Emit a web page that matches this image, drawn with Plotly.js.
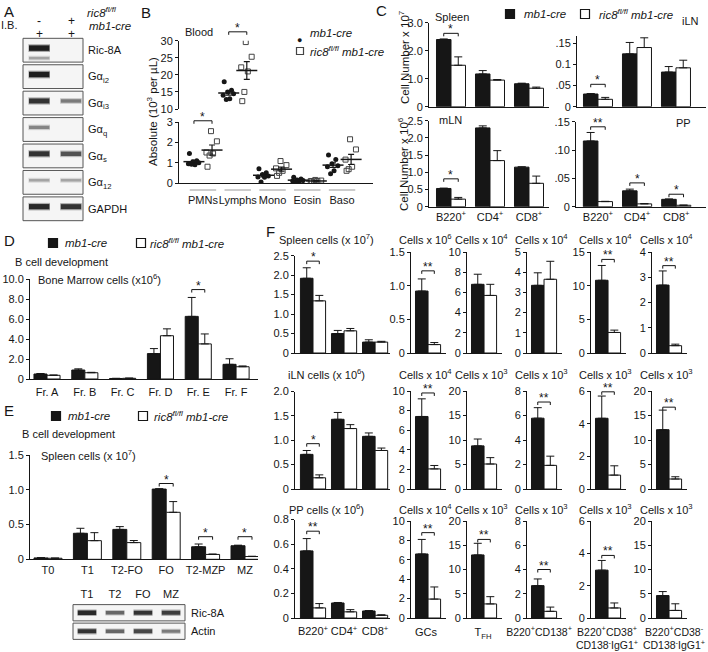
<!DOCTYPE html>
<html><head><meta charset="utf-8">
<script src="https://cdn.plot.ly/plotly-3.0.1.min.js"></script>
<style>html,body{margin:0;padding:0;background:#fff;}#chart{width:708px;height:652px;}</style>
</head><body><div id="chart"></div>
<script>
// ================= DATA =================
// Panel A (immunoblot band intensities, 0..1)
const blotLabels = ['Ric-8A','G\u03b1<sub>i2</sub>','G\u03b1<sub>i3</sub>','G\u03b1<sub>q</sub>','G\u03b1<sub>s</sub>','G\u03b1<sub>12</sub>','GAPDH'];
const blotCtrl = [0.95, 0.95, 0.85, 0.45, 0.85, 0.3, 0.9];
const blotKO = [0, 0, 0.5, 0, 0.7, 0.3, 0.85];
const blotCtrlMinor = [0.3, 0, 0, 0, 0, 0, 0];
const genoRic8 = ['-', '+'];
const genoMb1 = ['+', '+'];

// Panel B (blood counts, 10^3 per uL)
const bloodCats = ['PMNs','Lymphs','Mono','Eosin','Baso'];
const bloodCtrlPts = [[1.45,1.1,1.05,1.0,0.95,0.9,0.92],[18,15.5,15,14.5,14,13,12.8],[0.7,0.5,0.42,0.35,0.3,0.28,0.05],[0.28,0.2,0.15,0.12,0.1,0.08,0.05],[1.38,1.15,0.95,0.85,0.8,0.6,0.45]];
const bloodKOPts = [[2.55,2.05,1.5,1.45,1.35,0.8],[29.6,25.3,22.2,21.0,15.0,12.3],[1.08,0.88,0.72,0.6,0.5,0.35],[0.15,0.12,0.1,0.1,0.08,0.07],[2.15,1.65,1.15,0.8,0.68,0.6]];
const bloodCtrlMean = [1.05,14.7,0.38,0.14,0.88];
const bloodCtrlSem = [0.07,0.65,0.08,0.03,0.11];
const bloodKOMean = [1.62,21.3,0.68,0.10,1.16];
const bloodKOSem = [0.25,2.6,0.10,0.015,0.25];
const bloodSig = ['*','*','','',''];
const bloodSigY = [3.06,32.6,0,0,0];
const bloodLowTicks = ['0','1','2','3'];
const bloodHighTicks = ['10','15','20','25','30'];

// Panel C
const cCats = ['B220<sup>+</sup>','CD4<sup>+</sup>','CD8<sup>+</sup>'];
const cSpleenCtrl = [2.40,1.17,0.82], cSpleenCtrlErr = [0.02,0.12,0.02];
const cSpleenKO = [1.48,0.95,0.66], cSpleenKOErr = [0.30,0.02,0.04];
const cSpleenSig = ['*','',''], cSpleenSigY = [2.62,0,0];
const cSpleenTicks = ['0','1.0','2.0','3.0'];
const cILNCtrl = [0.030,0.125,0.082], cILNCtrlErr = [0.001,0.027,0.013];
const cILNKO = [0.0175,0.140,0.092], cILNKOErr = [0.0045,0.023,0.018];
const cILNSig = ['*','',''], cILNSigY = [0.053,0,0];
const cILNTicks = ['0','.05','0.1','.15'];
const cMLNCtrl = [0.53,2.29,1.15], cMLNCtrlErr = [0.01,0.06,0.01];
const cMLNKO = [0.22,1.34,0.68], cMLNKOErr = [0.05,0.29,0.21];
const cMLNSig = ['*','',''], cMLNSigY = [0.81,0,0];
const cMLNTicks = ['0','0.5','1.0','1.5','2.0','2.5'];
const cPPCtrl = [0.116,0.028,0.013], cPPCtrlErr = [0.015,0.003,0.0006];
const cPPKO = [0.009,0.005,0.0025], cPPKOErr = [0.0005,0.0005,0.0003];
const cPPSig = ['**','*','*'], cPPSigY = [0.141,0.042,0.022];
const cPPTicks = ['0','.05','.10','.15'];

// Panel D
const dCats = ['Fr. A','Fr. B','Fr. C','Fr. D','Fr. E','Fr. F'];
const dCtrl = [0.5,0.9,0.05,2.55,6.28,1.47], dCtrlErr = [0.05,0.12,0.02,0.5,1.9,0.56];
const dKO = [0.37,0.63,0.07,4.34,3.52,1.23], dKOErr = [0.03,0.04,0.02,0.69,1.0,0.08];
const dSig = ['','','','','*',''], dSigY = [0,0,0,0,8.97,0];
const dTicks = ['0','2.0','4.0','6.0','8.0','10.0'];

// Panel E
const eCats = ['T0','T1','T2-FO','FO','T2-MZP','MZ'];
const eCtrl = [0.02,0.374,0.43,1.01,0.18,0.195], eCtrlErr = [0.003,0.072,0.04,0.005,0.04,0.008];
const eKO = [0.015,0.268,0.24,0.676,0.07,0.04], eKOErr = [0.003,0.115,0.03,0.154,0.006,0.004];
const eSig = ['','','','*','*','*'], eSigY = [0,0,0,1.09,0.325,0.325];
const eTicks = ['0','0.5','1.0','1.5'];
const eBlotLanes = ['T1','T2','FO','MZ'];
const eBlotLabels = ['Ric-8A','Actin'];
const eBlotRic = [0.9,0.6,0.85,0.8];
const eBlotActin = [0.85,0.6,0.75,0.5];

// Panel F
const fCats = ['B220<sup>+</sup>','CD4<sup>+</sup>','CD8<sup>+</sup>'];
const fGroupTitles = ['Spleen cells (x 10<sup>7</sup>)','iLN cells (x 10<sup>6</sup>)','PP cells (x 10<sup>6</sup>)'];
const fSpleenCtrl = [1.92,0.50,0.28], fSpleenCtrlErr = [0.27,0.08,0.06];
const fSpleenKO = [1.34,0.57,0.28], fSpleenKOErr = [0.14,0.06,0.02];
const fSpleenSig = ['*','',''], fSpleenSigY = [2.36,0,0];
const fSpleenTicks = ['0','0.5','1.0','1.5','2.0','2.5'];
const fILNCtrl = [0.71,1.43,1.08], fILNCtrlErr = [0.08,0.14,0.07];
const fILNKO = [0.23,1.24,0.79], fILNKOErr = [0.06,0.08,0.05];
const fILNSig = ['*','',''], fILNSigY = [0.93,0,0];
const fILNTicks = ['0','0.5','1.0','1.5','2.0'];
const fPPCtrl = [0.545,0.122,0.057], fPPCtrlErr = [0.10,0.004,0.003];
const fPPKO = [0.082,0.05,0.022], fPPKOErr = [0.035,0.018,0.004];
const fPPSig = ['**','',''], fPPSigY = [0.705,0,0];
const fPPTicks = ['0','0.2','0.4','0.6','0.8'];

const fRow1Titles = ['Cells x 10<sup>6</sup>','Cells x 10<sup>4</sup>','Cells x 10<sup>4</sup>','Cells x 10<sup>4</sup>','Cells x 10<sup>4</sup>'];
const fRow1Max = [1.5,10,5,15,4], fRow1Step = [0.5,2,1,5,1];
const fRow1Ctrl = [0.92,6.8,3.35,10.8,2.69], fRow1CtrlErr = [0.18,1.0,0.62,2.2,0.56];
const fRow1KO = [0.125,5.7,3.65,3.05,0.29], fRow1KOErr = [0.03,1.1,0.89,0.35,0.06];
const fRow1Sig = ['**','','','**','**'], fRow1SigY = [1.22,0,0,13.9,3.46];

const fRow2Titles = ['Cells x 10<sup>4</sup>','Cells x 10<sup>3</sup>','Cells x 10<sup>3</sup>','Cells x 10<sup>3</sup>','Cells x 10<sup>3</sup>'];
const fRow2Max = [10,20,8,6,20], fRow2Step = [2,5,2,2,5];
const fRow2Ctrl = [7.4,8.8,5.78,4.33,12.1], fRow2CtrlErr = [1.8,1.4,0.86,1.36,4.0];
const fRow2KO = [2.05,5.1,1.93,0.85,2.04], fRow2KOErr = [0.35,1.3,0.75,0.57,0.46];
const fRow2Sig = ['**','','**','**','**'], fRow2SigY = [9.8,0,7.1,5.95,16.7];

const fRow3Titles = ['Cells x 10<sup>4</sup>','Cells x 10<sup>3</sup>','Cells x 10<sup>3</sup>','Cells x 10<sup>3</sup>','Cells x 10<sup>3</sup>'];
const fRow3Labels = ['GCs','T<sub>FH</sub>','B220<sup>+</sup>CD138<sup>+</sup>','B220<sup>+</sup>CD38<sup>+</sup><br>CD138<sup>-</sup>IgG1<sup>+</sup>','B220<sup>+</sup>CD38<sup>-</sup><br>CD138<sup>-</sup>IgG1<sup>+</sup>'];
const fRow3Max = [10,20,8,6,20], fRow3Step = [2,5,2,2,5];
const fRow3Ctrl = [6.6,13.0,2.67,2.96,4.63], fRow3CtrlErr = [1.5,2.4,0.55,0.6,0.82];
const fRow3KO = [1.95,2.9,0.55,0.62,1.56], fRow3KOErr = [1.25,1.5,0.35,0.31,1.37];
const fRow3Sig = ['**','**','**','**',''], fRow3SigY = [8.8,16.2,4.0,3.87,0];

// ================= DRAWING =================
const W = 708, H = 652;
const FONT = '"Liberation Sans", Arial, Helvetica, sans-serif';
const INK = '#161616';
const traces = [];
const layout = {
  width: W, height: H, margin: {l:0, r:0, t:0, b:0},
  paper_bgcolor: '#fff', plot_bgcolor: 'rgba(0,0,0,0)',
  showlegend: false, hovermode: false, barmode: 'overlay',
  font: {family: FONT, size: 11, color: INK},
  shapes: [], annotations: []
};
let axN = 0;
function newPanel(px0, px1, py0, py1, xr, yr, xopt, yopt) {
  axN++;
  const s = axN === 1 ? '' : String(axN);
  const xid = 'x' + s, yid = 'y' + s;
  layout['xaxis' + s] = Object.assign({domain:[px0/W, px1/W], range:xr, anchor:yid, showgrid:false, zeroline:false,
    showline:true, linecolor:INK, linewidth:1, ticks:'', tickangle:0, fixedrange:true, tickfont:{size:11, color:INK}}, xopt || {});
  layout['yaxis' + s] = Object.assign({domain:[1-py1/H, 1-py0/H], range:yr, anchor:xid, showgrid:false, zeroline:false,
    showline:true, linecolor:INK, linewidth:1, ticks:'outside', ticklen:3, tickwidth:1, tickcolor:INK, fixedrange:true,
    tickfont:{size:11, color:INK}}, yopt || {});
  return {x:xid, y:yid, xr:xr, yr:yr, w:px1-px0, h:py1-py0};
}
function dx(P, v) { return (v - P.xr[0]) / (P.xr[1] - P.xr[0]); }
function dy(P, v) { return (v - P.yr[0]) / (P.yr[1] - P.yr[0]); }
function txt(x, y, text, opt) {
  layout.annotations.push(Object.assign({xref:'paper', yref:'paper', x:x/W, y:1-y/H, text:text, showarrow:false,
    xanchor:'center', yanchor:'middle', font:{size:11, color:INK}}, opt || {}));
}
function square(cx, cy, fill, half, lc) {
  const h = half || 4.5;
  layout.shapes.push({type:'rect', xref:'paper', yref:'paper', x0:(cx-h)/W, x1:(cx+h)/W, y0:1-(cy+h)/H, y1:1-(cy-h)/H,
    fillcolor:fill, line:{color:lc || INK, width:1.2}});
}
function bracket(P, x0, x1, h, label) {
  const xr = P.x + ' domain', yr = P.y + ' domain';
  const yf = dy(P, h), tk = 3 / P.h;
  const L = {color:INK, width:1};
  layout.shapes.push({type:'line', xref:xr, yref:yr, x0:dx(P,x0), x1:dx(P,x1), y0:yf, y1:yf, line:L});
  layout.shapes.push({type:'line', xref:xr, yref:yr, x0:dx(P,x0), x1:dx(P,x0), y0:yf, y1:yf-tk, line:L});
  layout.shapes.push({type:'line', xref:xr, yref:yr, x0:dx(P,x1), x1:dx(P,x1), y0:yf, y1:yf-tk, line:L});
  layout.annotations.push({xref:xr, yref:yr, x:dx(P,(x0+x1)/2), y:yf, xanchor:'center', yanchor:'bottom', yshift:-5,
    text:label, showarrow:false, font:{size:12, color:INK}});
}
function errY(arr) {
  return {type:'data', symmetric:false, array:arr, arrayminus:arr.map(() => 0), color:INK, thickness:1, width:4};
}
function bars(P, ctrl, ctrlErr, ko, koErr, bw) {
  const xs = ctrl.map((_, i) => i);
  traces.push({type:'bar', xaxis:P.x, yaxis:P.y, x:xs, y:ctrl, width:bw, offset:-bw,
    marker:{color:INK, line:{color:INK, width:1}}, error_y:errY(ctrlErr)});
  traces.push({type:'bar', xaxis:P.x, yaxis:P.y, x:xs, y:ko, width:bw, offset:0,
    marker:{color:'#ffffff', line:{color:INK, width:1}}, error_y:errY(koErr)});
}
function sigs(P, sig, sigY, bw) {
  sig.forEach((s, i) => { if (s) bracket(P, i - bw/2, i + bw/2, sigY[i], s); });
}
function tickAxis(labels) { return {tickvals: labels.map(Number), ticktext: labels}; }
function catAxis(cats, show) { return {tickvals: cats.map((_, i) => i), ticktext: cats, showticklabels: show}; }
function band(P, x0, x1, y, v, wmax) {
  if (!(v > 0)) return;
  const g = Math.round(225 - 205 * v);
  const col = 'rgb(' + g + ',' + g + ',' + g + ')';
  traces.push({type:'scatter', mode:'lines', xaxis:P.x, yaxis:P.y, x:[x0, x1], y:[y, y], opacity:0.35,
    line:{color:col, width:3.5 + wmax * v}});
  traces.push({type:'scatter', mode:'lines', xaxis:P.x, yaxis:P.y, x:[x0 + 0.01, x1 - 0.01], y:[y, y],
    line:{color:col, width:1.2 + wmax * v}});
}

// ---------- Panel A ----------
{
  const P = newPanel(23, 83, 37, 222, [0, 1], [0, 7], {visible:false},
    {side:'right', showline:false, ticks:'', tickvals: blotLabels.map((_, i) => 6.5 - i), ticktext: blotLabels,
     ticklabelstandoff: 4, tickfont:{size:11, color:INK}});
  const laneX = [0.27, 0.80], half = 0.18;
  blotLabels.forEach((_, i) => {
    layout.shapes.push({type:'rect', layer:'below', xref:P.x + ' domain', yref:P.y + ' domain', x0:0, x1:1,
      y0:(6 - i + 0.05)/7, y1:(7 - i - 0.05)/7, fillcolor:'#f5f5f5', line:{color:'#555', width:1}});
    band(P, laneX[0]-half, laneX[0]+half, 6.58 - i, blotCtrl[i], 4.5);
    band(P, laneX[1]-half, laneX[1]+half, 6.58 - i, blotKO[i], 4.5);
    band(P, laneX[0]-half, laneX[0]+half, 6.2 - i, blotCtrlMinor[i], 4.5);
  });
  genoRic8.forEach((g, k) => layout.annotations.push({xref:P.x, yref:'paper', x:laneX[k], y:1-12/H, text:g, showarrow:false, font:{size:12, color:INK}}));
  genoMb1.forEach((g, k) => layout.annotations.push({xref:P.x, yref:'paper', x:laneX[k], y:1-25/H, text:g, showarrow:false, font:{size:12, color:INK}}));
  txt(9, 11, 'A', {font:{size:15, color:INK}});
  txt(9, 25, 'I.B.');
  txt(85, 12, '<i>ric8<sup>fl/fl</sup></i>', {xanchor:'left', font:{size:11.5, color:INK}});
  txt(87, 26, '<i>mb1-cre</i>', {xanchor:'left', font:{size:11.5, color:INK}});
}

// ---------- Panel B ----------
{
  const xr = [-0.69, 4.89];
  const low = newPanel(179, 373, 122, 183, xr, [0, 3],
    {tickvals: bloodCats.map((_, i) => i), ticktext: bloodCats, ticklabelstandoff: 7}, tickAxis(bloodLowTicks));
  const high = newPanel(179, 373, 40.7, 109, xr, [10, 30], {visible:false}, tickAxis(bloodHighTicks));
  const jit = [-0.13, 0.08, -0.03, 0.14, -0.16, 0.03, -0.07];
  const gOff = 0.26;
  [low, high].forEach((P, pi) => {
    const use = bloodCats.map((_, i) => (bloodCtrlMean[i] > 3.5) === (pi === 1));
    const cx = [], cy = [], kx = [], ky = [];
    const mx = [], my = [], me = [], nx = [], ny = [], ne = [];
    bloodCats.forEach((_, i) => {
      if (!use[i]) return;
      bloodCtrlPts[i].forEach((v, k) => { cx.push(i - gOff + jit[k % jit.length]); cy.push(v); });
      bloodKOPts[i].forEach((v, k) => { kx.push(i + gOff + jit[(k + 2) % jit.length]); ky.push(v); });
      mx.push(i - gOff); my.push(bloodCtrlMean[i]); me.push(bloodCtrlSem[i]);
      nx.push(i + gOff); ny.push(bloodKOMean[i]); ne.push(bloodKOSem[i]);
    });
    traces.push({type:'scatter', mode:'markers', xaxis:P.x, yaxis:P.y, x:cx, y:cy, marker:{symbol:'circle', size:5, color:INK}});
    traces.push({type:'scatter', mode:'markers', xaxis:P.x, yaxis:P.y, x:kx, y:ky, marker:{symbol:'square-open', size:5, color:'#444', line:{width:1}}});
    [[mx, my, me], [nx, ny, ne]].forEach(([x, y, e]) => {
      traces.push({type:'scatter', mode:'markers', xaxis:P.x, yaxis:P.y, x:x, y:y,
        marker:{symbol:'line-ew-open', size:15, color:INK, line:{width:1.5, color:INK}},
        error_y:{type:'data', array:e, color:INK, thickness:1.2, width:3}});
    });
    bloodCats.forEach((_, i) => { if (use[i] && bloodSig[i]) bracket(P, i - gOff, i + gOff, bloodSigY[i], bloodSig[i]); });
  });
  bloodCats.forEach((_, i) => {
    layout.shapes.push({type:'line', xref:low.x + ' domain', yref:'paper', x0:dx(low, i - 0.38), x1:dx(low, i + 0.38),
      y0:1-190/H, y1:1-190/H, line:{color:'#9a9a9a', width:1}});
  });
  txt(146, 12, 'B', {font:{size:15, color:INK}});
  txt(199, 32, 'Blood');
  txt(152, 112, 'Absolute (10<sup>3</sup> per \u00b5L)', {textangle:-90, font:{size:11.5, color:INK}});
  layout.annotations.push({xref:'paper', yref:'paper', x:299/W, y:1-33/H, text:'\u25cf', showarrow:false, font:{size:9, color:INK}});
  square(300, 51, '#fff', 3.5, '#444');
  txt(308, 33, '<i>mb1-cre</i>', {xanchor:'left', font:{size:11.5, color:INK}});
  txt(308, 51, '<i>ric8<sup>fl/fl</sup> mb1-cre</i>', {xanchor:'left', font:{size:11.5, color:INK}});
}

// ---------- Panel C ----------
{
  const bw = 0.372;
  const sp = newPanel(429, 549, 22.7, 106.7, [-0.564, 2.513], [0, 3], catAxis(cCats, false), tickAxis(cSpleenTicks));
  bars(sp, cSpleenCtrl, cSpleenCtrlErr, cSpleenKO, cSpleenKOErr, bw); sigs(sp, cSpleenSig, cSpleenSigY, bw);
  const il = newPanel(577, 706, 35.7, 106.7, [-0.538, 2.77], [0, 0.168], catAxis(cCats, false), tickAxis(cILNTicks));
  bars(il, cILNCtrl, cILNCtrlErr, cILNKO, cILNKOErr, bw); sigs(il, cILNSig, cILNSigY, bw);
  const ml = newPanel(429, 549, 120.7, 206.7, [-0.564, 2.513], [0, 2.5], catAxis(cCats, true), tickAxis(cMLNTicks));
  bars(ml, cMLNCtrl, cMLNCtrlErr, cMLNKO, cMLNKOErr, bw); sigs(ml, cMLNSig, cMLNSigY, bw);
  const pp = newPanel(576, 706, 121.7, 206.7, [-0.56, 2.76], [0, 0.15], catAxis(cCats, true), tickAxis(cPPTicks));
  bars(pp, cPPCtrl, cPPCtrlErr, cPPKO, cPPKOErr, bw); sigs(pp, cPPSig, cPPSigY, bw);
  txt(381, 10, 'C', {font:{size:15, color:INK}});
  square(510, 14, INK); square(585, 14, '#fff');
  txt(522, 14, '<i>mb1-cre</i>', {xanchor:'left', font:{size:11.5, color:INK}});
  txt(597, 14, '<i>ric8<sup>fl/fl</sup> mb1-cre</i>', {xanchor:'left', font:{size:11.5, color:INK}});
  txt(452, 17, 'Spleen'); txt(690, 21, 'iLN'); txt(450, 120, 'mLN'); txt(683, 123, 'PP');
  txt(404, 57, 'Cell Number x 10<sup>7</sup>', {textangle:-90, font:{size:11.5, color:INK}});
  txt(403, 164, 'Cell Number x 10<sup>6</sup>', {textangle:-90, font:{size:11.5, color:INK}});
}

// ---------- Panel D ----------
{
  const bw = 0.345;
  const P = newPanel(30, 258, 279.3, 379, [-0.45, 5.58], [0, 10],
    Object.assign(catAxis(dCats, true), {ticklabelstandoff: 3}), tickAxis(dTicks));
  bars(P, dCtrl, dCtrlErr, dKO, dKOErr, bw); sigs(P, dSig, dSigY, bw);
  txt(9, 240, 'D', {font:{size:15, color:INK}});
  square(53, 243, INK); square(141, 243, '#fff');
  txt(63, 243, '<i>mb1-cre</i>', {xanchor:'left', font:{size:11.5, color:INK}});
  txt(148, 243, '<i>ric8<sup>fl/fl</sup> mb1-cre</i>', {xanchor:'left', font:{size:11.5, color:INK}});
  txt(13, 262, 'B cell development', {xanchor:'left'});
  txt(36, 279, 'Bone Marrow cells (x10<sup>6</sup>)', {xanchor:'left'});
}

// ---------- Panel E ----------
{
  const bw = 0.355;
  const P = newPanel(30, 258, 455, 559.3, [-0.457, 5.33], [0, 1.5], catAxis(eCats, true), tickAxis(eTicks));
  bars(P, eCtrl, eCtrlErr, eKO, eKOErr, bw); sigs(P, eSig, eSigY, bw);
  txt(9, 410, 'E', {font:{size:15, color:INK}});
  square(56, 416, INK); square(143, 416, '#fff');
  txt(66, 416, '<i>mb1-cre</i>', {xanchor:'left', font:{size:11.5, color:INK}});
  txt(152, 416, '<i>ric8<sup>fl/fl</sup> mb1-cre</i>', {xanchor:'left', font:{size:11.5, color:INK}});
  txt(20, 434, 'B cell development', {xanchor:'left'});
  txt(39, 455, 'Spleen cells (x 10<sup>7</sup>)', {xanchor:'left'});

  const B = newPanel(73, 185, 603.5, 640.5, [0, 4], [0, 2],
    {side:'top', showline:false, tickvals: eBlotLanes.map((_, i) => i + 0.5), ticktext: eBlotLanes, ticklabelstandoff: 2},
    {side:'right', showline:false, ticks:'', tickvals: eBlotLabels.map((_, i) => 1.5 - i), ticktext: eBlotLabels, ticklabelstandoff: 5});
  [eBlotRic, eBlotActin].forEach((row, r) => {
    layout.shapes.push({type:'rect', layer:'below', xref:B.x + ' domain', yref:B.y + ' domain', x0:0, x1:1,
      y0:(1 - r + 0.06)/2, y1:(2 - r - 0.06)/2, fillcolor:'#f5f5f5', line:{color:'#555', width:1}});
    row.forEach((v, k) => band(B, k + 0.5 - 0.34, k + 0.5 + 0.34, 1.5 - r, v, 3.5));
  });
}

// ---------- Panel F ----------
{
  const bw = 0.405;
  const gx0 = 295, gx1 = 390, gxr = [-0.58, 2.48];
  const rows = [
    {top:255.7, stop:252, bot:353, ty:239, ticks:fSpleenTicks, c:fSpleenCtrl, ce:fSpleenCtrlErr, k:fSpleenKO, ke:fSpleenKOErr, s:fSpleenSig, sy:fSpleenSigY,
     titles:fRow1Titles, max:fRow1Max, step:fRow1Step, sc:fRow1Ctrl, sce:fRow1CtrlErr, sk:fRow1KO, ske:fRow1KOErr, ss:fRow1Sig, ssy:fRow1SigY, labels:null},
    {top:391.5, stop:391, bot:489, ty:374, ticks:fILNTicks, c:fILNCtrl, ce:fILNCtrlErr, k:fILNKO, ke:fILNKOErr, s:fILNSig, sy:fILNSigY,
     titles:fRow2Titles, max:fRow2Max, step:fRow2Step, sc:fRow2Ctrl, sce:fRow2CtrlErr, sk:fRow2KO, ske:fRow2KOErr, ss:fRow2Sig, ssy:fRow2SigY, labels:null},
    {top:519.5, stop:521, bot:618, ty:509, ticks:fPPTicks, c:fPPCtrl, ce:fPPCtrlErr, k:fPPKO, ke:fPPKOErr, s:fPPSig, sy:fPPSigY,
     titles:fRow3Titles, max:fRow3Max, step:fRow3Step, sc:fRow3Ctrl, sce:fRow3CtrlErr, sk:fRow3KO, ske:fRow3KOErr, ss:fRow3Sig, ssy:fRow3SigY, labels:fRow3Labels}
  ];
  const sx = [411, 467, 527, 591, 652];
  const lshift = [-2, -1, -5, -1, 5];
  const fmt = (v, st) => v === 0 ? '0' : (st < 1 ? v.toFixed(1) : String(v));
  rows.forEach((R, ri) => {
    const gxo = Object.assign(catAxis(fCats, ri === 2), ri === 2 ? {ticklabelstandoff: 3} : {});
    const G = newPanel(gx0, gx1, R.top, R.bot, gxr, [0, Number(R.ticks[R.ticks.length - 1])], gxo, tickAxis(R.ticks));
    bars(G, R.c, R.ce, R.k, R.ke, bw); sigs(G, R.s, R.sy, bw);
    txt(326, R.ty, fGroupTitles[ri]);
    for (let j = 0; j < 5; j++) {
      const tv = [];
      for (let v = 0; v <= R.max[j] + 1e-9; v += R.step[j]) tv.push(+v.toFixed(3));
      const xo = R.labels
        ? {tickvals:[0], ticktext:[R.labels[j]], showticklabels:true, ticklabelshift:lshift[j], ticklabelstandoff:4,
           tickfont:{size:j >= 2 ? 10.5 : 11, color:INK}}
        : {tickvals:[0], ticktext:[''], showticklabels:false};
      const P = newPanel(sx[j], sx[j] + 35, R.stop, R.bot, [-0.55, 0.58], [0, R.max[j]], xo,
        {tickvals: tv, ticktext: tv.map(v => fmt(v, R.step[j]))});
      bars(P, [R.sc[j]], [R.sce[j]], [R.sk[j]], [R.ske[j]], bw);
      if (R.ss[j]) bracket(P, -bw/2, bw/2, R.ssy[j], R.ss[j]);
      txt(sx[j] + 14, R.ty, R.titles[j]);
    }
  });
  txt(270, 231, 'F', {font:{size:15, color:INK}});
}

Plotly.newPlot('chart', traces, layout, {displayModeBar:false, staticPlot:true});
</script>
</body></html>
